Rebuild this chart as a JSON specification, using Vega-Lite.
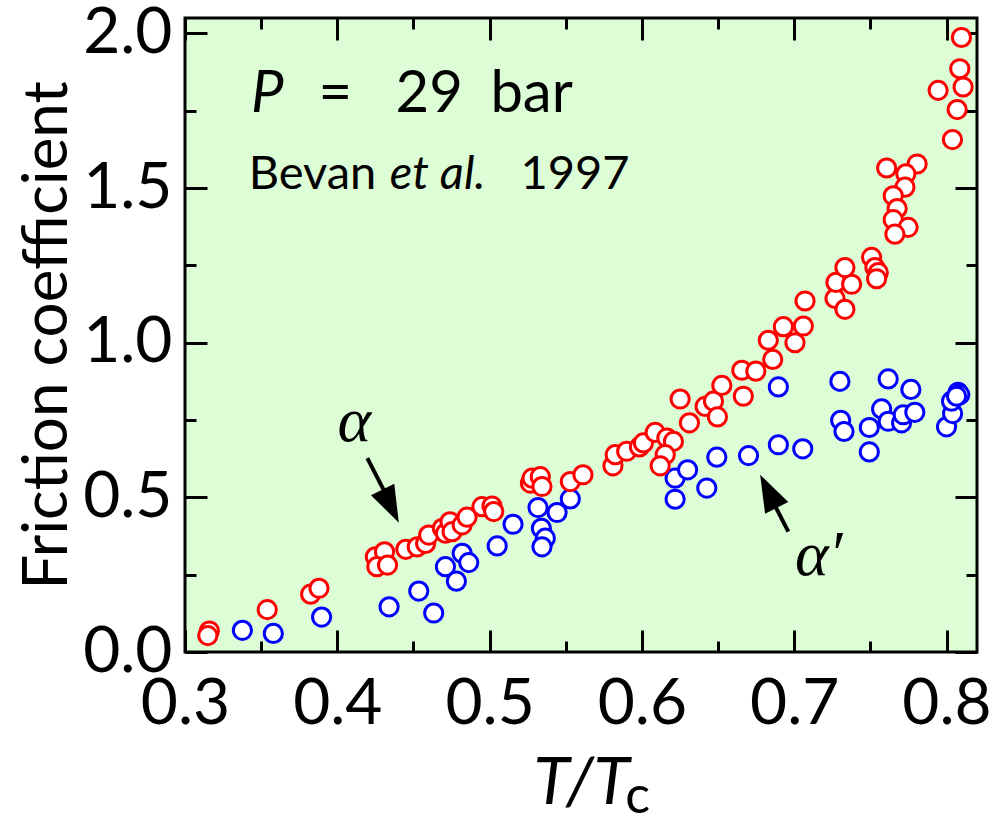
{
  "$schema": "https://vega.github.io/schema/vega-lite/v6.json",
  "width": 792,
  "height": 634,
  "autosize": {"type": "none"},
  "padding": {"left": 185, "top": 18, "right": 31, "bottom": 164},
  "background": "white",
  "view": {"fill": "#ddfdd6", "stroke": "black", "strokeWidth": 3},
  "config": {"font": "Lato"},
  "resolve": {"axis": {"x": "independent", "y": "independent"}},
  "datasets": {
    "red": [
      {"t": 0.316, "f": 0.068}, {"t": 0.315, "f": 0.053}, {"t": 0.354, "f": 0.137}, {"t": 0.3825, "f": 0.187},
      {"t": 0.388, "f": 0.206}, {"t": 0.425, "f": 0.308}, {"t": 0.431, "f": 0.324}, {"t": 0.426, "f": 0.276},
      {"t": 0.433, "f": 0.281}, {"t": 0.445, "f": 0.332}, {"t": 0.4525, "f": 0.34}, {"t": 0.458, "f": 0.351},
      {"t": 0.46, "f": 0.378}, {"t": 0.469, "f": 0.4}, {"t": 0.471, "f": 0.384}, {"t": 0.474, "f": 0.421},
      {"t": 0.4754, "f": 0.389}, {"t": 0.482, "f": 0.411}, {"t": 0.4852, "f": 0.436}, {"t": 0.495, "f": 0.47},
      {"t": 0.5016, "f": 0.472}, {"t": 0.5027, "f": 0.454}, {"t": 0.5268, "f": 0.546}, {"t": 0.5279, "f": 0.562},
      {"t": 0.5333, "f": 0.567}, {"t": 0.5344, "f": 0.535}, {"t": 0.553, "f": 0.551}, {"t": 0.5613, "f": 0.573},
      {"t": 0.581, "f": 0.602}, {"t": 0.5825, "f": 0.638}, {"t": 0.59, "f": 0.649}, {"t": 0.5984, "f": 0.663},
      {"t": 0.601, "f": 0.676}, {"t": 0.6087, "f": 0.71}, {"t": 0.6164, "f": 0.692}, {"t": 0.6207, "f": 0.681},
      {"t": 0.6153, "f": 0.638}, {"t": 0.612, "f": 0.602}, {"t": 0.6251, "f": 0.818}, {"t": 0.6312, "f": 0.741},
      {"t": 0.6415, "f": 0.794}, {"t": 0.647, "f": 0.811}, {"t": 0.6496, "f": 0.76}, {"t": 0.6525, "f": 0.862},
      {"t": 0.6666, "f": 0.827}, {"t": 0.6656, "f": 0.911}, {"t": 0.6748, "f": 0.908}, {"t": 0.6859, "f": 0.946},
      {"t": 0.683, "f": 1.008}, {"t": 0.6929, "f": 1.052}, {"t": 0.7005, "f": 1.0}, {"t": 0.706, "f": 1.054},
      {"t": 0.7071, "f": 1.135}, {"t": 0.7268, "f": 1.143}, {"t": 0.7333, "f": 1.108}, {"t": 0.7274, "f": 1.195},
      {"t": 0.7377, "f": 1.189}, {"t": 0.7333, "f": 1.243}, {"t": 0.7508, "f": 1.276}, {"t": 0.753, "f": 1.243},
      {"t": 0.7552, "f": 1.227}, {"t": 0.7541, "f": 1.207}, {"t": 0.7607, "f": 1.565}, {"t": 0.7807, "f": 1.578},
      {"t": 0.7733, "f": 1.546}, {"t": 0.7727, "f": 1.503}, {"t": 0.765, "f": 1.475}, {"t": 0.7676, "f": 1.434},
      {"t": 0.765, "f": 1.398}, {"t": 0.7748, "f": 1.373}, {"t": 0.7661, "f": 1.351}, {"t": 0.8098, "f": 1.987},
      {"t": 0.8087, "f": 1.886}, {"t": 0.8109, "f": 1.827}, {"t": 0.7945, "f": 1.816}, {"t": 0.807, "f": 1.754},
      {"t": 0.8039, "f": 1.657}
    ],
    "blue": [
      {"t": 0.3377, "f": 0.07}, {"t": 0.358, "f": 0.06}, {"t": 0.3897, "f": 0.113}, {"t": 0.434, "f": 0.146},
      {"t": 0.4535, "f": 0.197}, {"t": 0.4633, "f": 0.126}, {"t": 0.471, "f": 0.276}, {"t": 0.482, "f": 0.319},
      {"t": 0.4863, "f": 0.289}, {"t": 0.4782, "f": 0.229}, {"t": 0.505, "f": 0.343}, {"t": 0.5154, "f": 0.413},
      {"t": 0.5318, "f": 0.467}, {"t": 0.534, "f": 0.4}, {"t": 0.5366, "f": 0.368}, {"t": 0.5344, "f": 0.34},
      {"t": 0.5443, "f": 0.451}, {"t": 0.553, "f": 0.495}, {"t": 0.6218, "f": 0.494}, {"t": 0.6218, "f": 0.562},
      {"t": 0.63, "f": 0.589}, {"t": 0.6426, "f": 0.53}, {"t": 0.6492, "f": 0.63}, {"t": 0.67, "f": 0.635},
      {"t": 0.6896, "f": 0.857}, {"t": 0.6896, "f": 0.67}, {"t": 0.7056, "f": 0.657}, {"t": 0.73, "f": 0.875},
      {"t": 0.7305, "f": 0.749}, {"t": 0.7327, "f": 0.713}, {"t": 0.7493, "f": 0.726}, {"t": 0.7493, "f": 0.647},
      {"t": 0.7574, "f": 0.786}, {"t": 0.7617, "f": 0.883}, {"t": 0.7617, "f": 0.746}, {"t": 0.7705, "f": 0.741},
      {"t": 0.7716, "f": 0.767}, {"t": 0.7792, "f": 0.775}, {"t": 0.7766, "f": 0.849}, {"t": 0.8, "f": 0.728},
      {"t": 0.804, "f": 0.771}, {"t": 0.8033, "f": 0.811}, {"t": 0.8076, "f": 0.84}, {"t": 0.8087, "f": 0.832},
      {"t": 0.8066, "f": 0.827}
    ]
  },
  "layer": [
    {
      "data": {"name": "blue"},
      "mark": {"type": "point", "shape": "circle", "filled": true, "fill": "white", "stroke": "#0000ff", "strokeWidth": 3, "size": 330, "opacity": 1},
      "encoding": {
        "x": {"field": "t", "type": "quantitative", "scale": {"domain": [0.3, 0.82], "nice": false, "zero": false},
          "axis": {"orient": "top", "values": [0.3, 0.35, 0.4, 0.45, 0.5, 0.55, 0.6, 0.65, 0.7, 0.75, 0.8], "domain": false, "grid": false, "labels": false, "title": null,
            "tickColor": "black", "tickWidth": 3, "tickSize": {"condition": {"test": "abs(datum.value*10-round(datum.value*10))<0.001", "value": -22}, "value": -11}}},
        "y": {"field": "f", "type": "quantitative", "scale": {"domain": [0, 2.05], "nice": false, "zero": false},
          "axis": {"orient": "right", "values": [0, 0.25, 0.5, 0.75, 1, 1.25, 1.5, 1.75, 2], "domain": false, "grid": false, "labels": false, "title": null,
            "tickColor": "black", "tickWidth": 3, "tickSize": {"condition": {"test": "abs(datum.value*2-round(datum.value*2))<0.001", "value": -22}, "value": -11}}}
      }
    },
    {
      "data": {"name": "red"},
      "mark": {"type": "point", "shape": "circle", "filled": true, "fill": "white", "stroke": "#ff0000", "strokeWidth": 3, "size": 330, "opacity": 1},
      "encoding": {
        "x": {"field": "t", "type": "quantitative", "scale": {"domain": [0.3, 0.82], "nice": false, "zero": false},
          "axis": {"orient": "bottom", "values": [0.3, 0.35, 0.4, 0.45, 0.5, 0.55, 0.6, 0.65, 0.7, 0.75, 0.8], "domain": false, "grid": false,
            "tickColor": "black", "tickWidth": 3, "tickSize": {"condition": {"test": "abs(datum.value*10-round(datum.value*10))<0.001", "value": -22}, "value": -11},
            "labelExpr": "abs(datum.value*10-round(datum.value*10))<0.001 ? format(datum.value, '.1f') : ''",
            "labelFont": "Lato", "labelFontSize": 64, "labelColor": "black", "labelPadding": 42, "labelFlush": false, "labelOverlap": false,
            "title": "T/T", "titleFont": "Lato", "titleFontSize": 66, "titleFontStyle": "italic", "titleFontWeight": "normal", "titleColor": "black", "titlePadding": 4}},
        "y": {"field": "f", "type": "quantitative", "scale": {"domain": [0, 2.05], "nice": false, "zero": false},
          "axis": {"orient": "left", "values": [0, 0.25, 0.5, 0.75, 1, 1.25, 1.5, 1.75, 2], "domain": false, "grid": false,
            "tickColor": "black", "tickWidth": 3, "tickSize": {"condition": {"test": "abs(datum.value*2-round(datum.value*2))<0.001", "value": -22}, "value": -11},
            "labelExpr": "abs(datum.value*2-round(datum.value*2))<0.001 ? format(datum.value, '.1f') : ''",
            "labelFont": "Lato", "labelFontSize": 64, "labelColor": "black", "labelPadding": 35, "labelFlush": false, "labelOverlap": false,
            "title": "Friction coefficient", "titleFont": "Lato", "titleFontSize": 62, "titleFontWeight": "normal", "titleColor": "black", "titlePadding": 3}}
      }
    },
    {
      "data": {"values": [{"x1": 0.4197, "y1": 0.627, "x2": 0.4338, "y2": 0.492}, {"x1": 0.6961, "y1": 0.389, "x2": 0.6854, "y2": 0.492}]},
      "mark": {"type": "rule", "color": "black", "strokeWidth": 4},
      "encoding": {
        "x": {"field": "x1", "type": "quantitative", "scale": {"domain": [0.3, 0.82], "nice": false, "zero": false}, "axis": null},
        "y": {"field": "y1", "type": "quantitative", "scale": {"domain": [0, 2.05], "nice": false, "zero": false}, "axis": null},
        "x2": {"field": "x2"},
        "y2": {"field": "y2"}
      }
    },
    {
      "data": {"values": [{"x": 0.4404, "y": 0.418, "a": -26}, {"x": 0.6776, "y": 0.573, "a": 153.4}]},
      "mark": {"type": "point", "shape": "M0,0L-0.7,-2L0.7,-2Z", "filled": true, "fill": "black", "strokeWidth": 0, "size": 1369, "opacity": 1},
      "encoding": {
        "x": {"field": "x", "type": "quantitative", "scale": {"domain": [0.3, 0.82], "nice": false, "zero": false}, "axis": null},
        "y": {"field": "y", "type": "quantitative", "scale": {"domain": [0, 2.05], "nice": false, "zero": false}, "axis": null},
        "angle": {"field": "a", "type": "quantitative", "scale": null}
      }
    },
    {
      "data": {"values": [
        {"x": 0.4002, "y": 0.681, "s": "α"},
        {"x": 0.7005, "y": 0.249, "s": "α′"}
      ]},
      "mark": {"type": "text", "font": "Liberation Serif", "fontStyle": "italic", "fontSize": 64, "align": "left", "baseline": "alphabetic", "color": "black"},
      "encoding": {
        "x": {"field": "x", "type": "quantitative", "scale": {"domain": [0.3, 0.82], "nice": false, "zero": false}, "axis": null},
        "y": {"field": "y", "type": "quantitative", "scale": {"domain": [0, 2.05], "nice": false, "zero": false}, "axis": null},
        "text": {"field": "s"}
      }
    },
    {
      "data": {"values": [
        {"x": 0.3433, "y": 1.745, "s": "P", "size": 58},
        {"x": 0.4345, "y": 1.497, "s": "et al.", "size": 47}
      ]},
      "mark": {"type": "text", "font": "Lato", "fontStyle": "italic", "align": "left", "baseline": "alphabetic", "color": "black"},
      "encoding": {
        "x": {"field": "x", "type": "quantitative", "scale": {"domain": [0.3, 0.82], "nice": false, "zero": false}, "axis": null},
        "y": {"field": "y", "type": "quantitative", "scale": {"domain": [0, 2.05], "nice": false, "zero": false}, "axis": null},
        "text": {"field": "s"},
        "size": {"field": "size", "type": "quantitative", "scale": null}
      }
    },
    {
      "data": {"values": [
        {"x": 0.3877, "y": 1.745, "s": "=", "size": 58},
        {"x": 0.4382, "y": 1.745, "s": "29", "size": 58},
        {"x": 0.5005, "y": 1.745, "s": "bar", "size": 58},
        {"x": 0.3418, "y": 1.497, "s": "Bevan", "size": 47},
        {"x": 0.5202, "y": 1.497, "s": "1997", "size": 47},
        {"x": 0.589, "y": -0.52, "s": "c", "size": 52}
      ]},
      "mark": {"type": "text", "font": "Lato", "align": "left", "baseline": "alphabetic", "color": "black", "clip": false},
      "encoding": {
        "x": {"field": "x", "type": "quantitative", "scale": {"domain": [0.3, 0.82], "nice": false, "zero": false}, "axis": null},
        "y": {"field": "y", "type": "quantitative", "scale": {"domain": [0, 2.05], "nice": false, "zero": false}, "axis": null},
        "text": {"field": "s"},
        "size": {"field": "size", "type": "quantitative", "scale": null}
      }
    }
  ]
}
